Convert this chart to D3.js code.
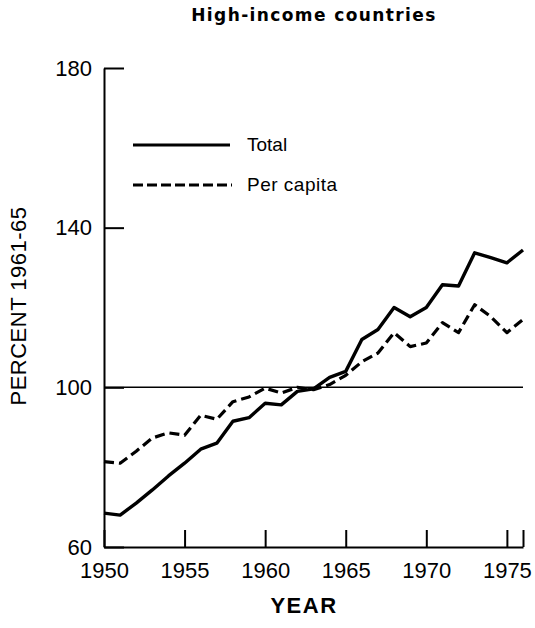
<!DOCTYPE html>
<html>
<head>
<meta charset="utf-8">
<script src="https://cdn.jsdelivr.net/npm/d3@7"></script>
<style>
  body { margin: 0; background: #fff; }
  svg { display: block; font-family: "Liberation Sans", Arial, sans-serif; }
</style>
</head>
<body>
<div id="chart"></div>
<script>
// data (index, 1961-65 = 100)
const years = [1950, 1951, 1952, 1953, 1954, 1955, 1956, 1957, 1958, 1959, 1960, 1961, 1962,
  1963, 1964, 1965, 1966, 1967, 1968, 1969, 1970, 1971, 1972, 1973, 1974, 1975, 1976];
const totalVals = [68.5, 68, 71, 74.3, 77.8, 81, 84.5, 86, 91.5, 92.4, 96, 95.6, 99,
  99.6, 102.5, 104, 112, 114.5, 120, 117.7, 120, 125.7, 125.4, 133.7, 132.5, 131.2, 134.4];
const perCapitaVals = [81.4, 81, 84, 87.3, 88.6, 88, 93, 92, 96.4, 97.6, 99.8, 98.6, 100,
  99.4, 100.7, 103, 106.4, 108.6, 113.7, 110.2, 111.1, 116.2, 113.7, 120.7, 117.7, 113.7, 117];
const yTicks = [60, 100, 140, 180];
const xTicks = [1950, 1955, 1960, 1965, 1970, 1975, 1976];

const width = 535, height = 628;
const svg = d3.select('#chart').append('svg')
  .attr('width', width)
  .attr('height', height);

const x = d3.scaleLinear().domain([1950, 1976]).range([104, 523]);
const y = d3.scaleLinear().domain([60, 180]).range([547, 68]);

// title
svg.append('text')
  .attr('x', 314).attr('y', 21)
  .attr('text-anchor', 'middle')
  .attr('font-family', '"DejaVu Sans", sans-serif')
  .attr('font-size', 17).attr('font-weight', 'bold')
  .attr('letter-spacing', 1.4)
  .text('High-income countries');

// reference line at 100
svg.append('line')
  .attr('x1', x(1950)).attr('x2', x(1976))
  .attr('y1', y(100)).attr('y2', y(100))
  .attr('stroke', '#000').attr('stroke-width', 1.5);

// x axis, ticks pointing up
const xAxis = svg.append('g')
  .attr('transform', `translate(0,${y(60)})`)
  .call(d3.axisBottom(x).tickValues(xTicks)
    .tickFormat(d => d === 1976 ? '' : d)
    .tickSize(-17).tickSizeOuter(0).tickPadding(15));
xAxis.select('.domain').attr('stroke-width', 2);
xAxis.selectAll('.tick line').attr('stroke-width', 2);
xAxis.selectAll('.tick text')
  .attr('font-size', 22).attr('fill', '#000');

// y axis, ticks pointing right
const yAxis = svg.append('g')
  .attr('transform', `translate(${x(1950)},0)`)
  .call(d3.axisLeft(y).tickValues(yTicks)
    .tickSize(-20).tickSizeOuter(0).tickPadding(12));
yAxis.select('.domain').attr('stroke-width', 2);
yAxis.selectAll('.tick line').attr('stroke-width', 2);
yAxis.selectAll('.tick text')
  .attr('font-size', 22).attr('fill', '#000');

// axis titles
svg.append('text')
  .attr('transform', 'translate(26,306) rotate(-90)')
  .attr('text-anchor', 'middle')
  .attr('font-size', 22)
  .attr('letter-spacing', 0.5)
  .text('PERCENT 1961-65');

svg.append('text')
  .attr('x', 304).attr('y', 613)
  .attr('text-anchor', 'middle')
  .attr('font-size', 22).attr('font-weight', 'bold')
  .attr('letter-spacing', 1.5)
  .text('YEAR');

// lines
const line = d3.line()
  .x((d, i) => x(years[i]))
  .y(d => y(d));

svg.append('path')
  .datum(perCapitaVals)
  .attr('d', line)
  .attr('fill', 'none')
  .attr('stroke', '#000')
  .attr('stroke-width', 3.2)
  .attr('stroke-dasharray', '10,5')
  .attr('stroke-linejoin', 'round');

svg.append('path')
  .datum(totalVals)
  .attr('d', line)
  .attr('fill', 'none')
  .attr('stroke', '#000')
  .attr('stroke-width', 3.4)
  .attr('stroke-linejoin', 'round');

// legend
const legend = svg.append('g');
legend.append('line')
  .attr('x1', 133).attr('x2', 230).attr('y1', 145).attr('y2', 145)
  .attr('stroke', '#000').attr('stroke-width', 3);
legend.append('text')
  .attr('x', 247).attr('y', 151)
  .attr('font-size', 19)
  .text('Total');
legend.append('line')
  .attr('x1', 133).attr('x2', 232).attr('y1', 185).attr('y2', 185)
  .attr('stroke', '#000').attr('stroke-width', 3)
  .attr('stroke-dasharray', '10,4');
legend.append('text')
  .attr('x', 247).attr('y', 191)
  .attr('font-size', 19)
  .attr('letter-spacing', 0.5)
  .text('Per capita');
</script>
</body>
</html>
